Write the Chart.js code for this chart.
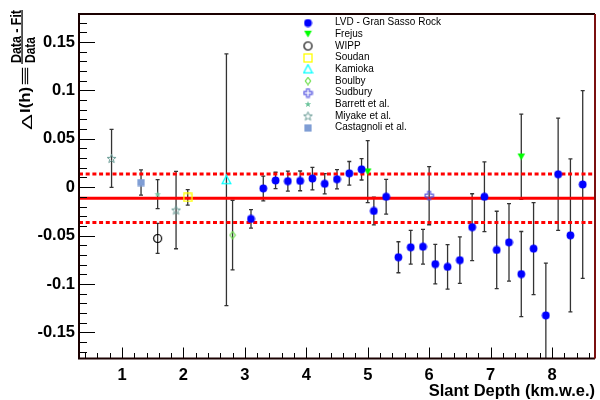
<!DOCTYPE html>
<html>
<head>
<meta charset="utf-8">
<script src="https://cdn.jsdelivr.net/npm/chart.js@4.4.1/dist/chart.umd.min.js"></script>
<style>
  html, body { margin: 0; padding: 0; background: #fff; }
</style>
</head>
<body>
<canvas id="chart" width="600" height="400"></canvas>
<script>
// Residuals (Data - Fit)/Data versus slant depth (km.w.e.)

const lvdDepth = [3.1, 3.3, 3.5, 3.7, 3.9, 4.1, 4.3, 4.5, 4.7, 4.9, 5.1, 5.3, 5.5, 5.7,
                  5.9, 6.1, 6.3, 6.5, 6.7, 6.9, 7.1, 7.3, 7.5, 7.7, 7.9, 8.1, 8.3, 8.5];
const lvdRes = [-0.0328, -0.0013, 0.0069, 0.0062, 0.0065, 0.0089, 0.0035, 0.0082, 0.0143, 0.0184,
                -0.0246, -0.0099, -0.0724, -0.0621, -0.0615, -0.0795, -0.0823, -0.0754, -0.0413, -0.0099,
                -0.0649, -0.0570, -0.0898, -0.0635, -0.1325, 0.0133, -0.0498, 0.0028];
const lvdErr = [0.0095, 0.0128, 0.0085, 0.0103, 0.0102, 0.0116, 0.0105, 0.0100, 0.0122, 0.0110,
                0.0143, 0.0180, 0.0160, 0.0174, 0.0180, 0.0205, 0.0230, 0.0240, 0.0345, 0.0360,
                0.0400, 0.0400, 0.0440, 0.0475, 0.0540, 0.0580, 0.0790, 0.0970];

const frejusDepth = [5.0, 7.5];
const frejusRes = [0.0161, 0.0315];
const frejusErr = [0.032, 0.044];

const wippDepth = [1.58];
const wippRes = [-0.053];
const wippErr = [0.0155];

const soudanDepth = [2.07];
const soudanRes = [-0.0106];
const soudanErr = [0.008];

const kamiokaDepth = [2.7];
const kamiokaRes = [0.0076];
const kamiokaErr = [0.13];

const boulbyDepth = [2.8];
const boulbyRes = [-0.0495];
const boulbyErr = [0.036];

const sudburyDepth = [6.0];
const sudburyRes = [-0.0088];
const sudburyErr = [0.030];

const barrettDepth = [1.58];
const barrettRes = [-0.0072];
const barrettErr = [0.015];

const miyakeDepth = [0.83, 1.88];
const miyakeRes = [0.0297, -0.0236];
const miyakeErr = [0.030, 0.040];

const castagnoliDepth = [1.31];
const castagnoliRes = [0.0048];
const castagnoliErr = [0.013];

// fit result: mean residual and +-1 sigma band
const fitMean = -0.0115;
const fitBand = [0.0135, -0.0365];

const xMin = 0.3, xMax = 8.7;
const yMin = -0.177, yMax = 0.179;
const xTickValues = [1, 2, 3, 4, 5, 6, 7, 8];
const yTickValues = [-0.15, -0.1, -0.05, 0, 0.05, 0.1, 0.15];
const yTickLabels = ['-0.15', '-0.1', '-0.05', '0', '0.05', '0.1', '0.15'];

const FONT = "'Liberation Sans', Arial, Helvetica, sans-serif";

// ---- marker images (ROOT style markers) ----
function marker(w, h, draw) {
  const c = document.createElement('canvas');
  c.width = w; c.height = h;
  const g = c.getContext('2d');
  draw(g, w / 2, h / 2);
  return c;
}

function starPath(g, cx, cy, ro, ri) {
  g.beginPath();
  for (let k = 0; k < 10; k++) {
    const r = k % 2 ? ri : ro;
    const a = -Math.PI / 2 + k * Math.PI / 5;
    g.lineTo(cx + r * Math.cos(a), cy + r * Math.sin(a));
  }
  g.closePath();
}

const mkLvd = marker(9, 9, (g, cx, cy) => {
  g.fillStyle = '#0000ff';
  g.beginPath(); g.arc(cx, cy, 3.9, 0, Math.PI * 2); g.fill();
});
const mkFrejus = marker(9, 8, (g, cx, cy) => {
  g.fillStyle = '#00ff00';
  g.beginPath(); g.moveTo(cx - 3.8, cy - 3.2); g.lineTo(cx + 3.8, cy - 3.2); g.lineTo(cx, cy + 3.4);
  g.closePath(); g.fill();
});
const mkWipp = marker(11, 11, (g, cx, cy) => {
  g.strokeStyle = '#000'; g.lineWidth = 1.2;
  g.beginPath(); g.arc(cx, cy, 4, 0, Math.PI * 2); g.stroke();
});
const mkSoudan = marker(10, 10, (g, cx, cy) => {
  g.strokeStyle = '#ffff00'; g.lineWidth = 1.3;
  g.strokeRect(cx - 4, cy - 4, 8, 8);
});
const mkKamioka = marker(11, 11, (g, cx, cy) => {
  g.strokeStyle = '#00ffff'; g.lineWidth = 1.3;
  g.beginPath(); g.moveTo(cx, cy - 4.3); g.lineTo(cx + 4.3, cy + 3.8); g.lineTo(cx - 4.3, cy + 3.8);
  g.closePath(); g.stroke();
});
const mkBoulby = marker(8, 9, (g, cx, cy) => {
  g.strokeStyle = '#66dd44'; g.lineWidth = 1.1;
  g.beginPath(); g.moveTo(cx, cy - 3.6); g.lineTo(cx + 2.7, cy); g.lineTo(cx, cy + 3.6); g.lineTo(cx - 2.7, cy);
  g.closePath(); g.stroke();
});
const mkSudbury = marker(11, 11, (g, cx, cy) => {
  const a = 1.4, h = 4.2;
  const pts = [[-a, -h], [a, -h], [a, -a], [h, -a], [h, a], [a, a], [a, h], [-a, h], [-a, a], [-h, a], [-h, -a], [-a, -a]];
  g.strokeStyle = '#5050e0'; g.lineWidth = 1.1;
  g.beginPath();
  pts.forEach(p => g.lineTo(cx + p[0], cy + p[1]));
  g.closePath(); g.stroke();
});
const mkBarrett = marker(8, 8, (g, cx, cy) => {
  g.fillStyle = '#6cc49c';
  starPath(g, cx, cy + 0.3, 3.4, 1.4); g.fill();
});
const mkMiyake = marker(11, 11, (g, cx, cy) => {
  g.strokeStyle = '#6a9c96'; g.lineWidth = 1;
  starPath(g, cx, cy + 0.4, 4.6, 1.9); g.stroke();
});
const mkCastagnoli = marker(8, 8, (g, cx, cy) => {
  g.fillStyle = '#7f9dd4';
  g.fillRect(cx - 3.6, cy - 3.6, 7.2, 7.2);
});

function pts(xs, ys) { return xs.map((x, i) => ({ x, y: ys[i] })); }

const markerDatasets = [
  { label: 'LVD - Gran Sasso Rock', data: pts(lvdDepth, lvdRes), errors: lvdErr, pointStyle: mkLvd },
  { label: 'Frejus', data: pts(frejusDepth, frejusRes), errors: frejusErr, pointStyle: mkFrejus },
  { label: 'WIPP', data: pts(wippDepth, wippRes), errors: wippErr, pointStyle: mkWipp },
  { label: 'Soudan', data: pts(soudanDepth, soudanRes), errors: soudanErr, pointStyle: mkSoudan },
  { label: 'Kamioka', data: pts(kamiokaDepth, kamiokaRes), errors: kamiokaErr, pointStyle: mkKamioka },
  { label: 'Boulby', data: pts(boulbyDepth, boulbyRes), errors: boulbyErr, pointStyle: mkBoulby },
  { label: 'Sudbury', data: pts(sudburyDepth, sudburyRes), errors: sudburyErr, pointStyle: mkSudbury },
  { label: 'Barrett et al.', data: pts(barrettDepth, barrettRes), errors: barrettErr, pointStyle: mkBarrett },
  { label: 'Miyake et al.', data: pts(miyakeDepth, miyakeRes), errors: miyakeErr, pointStyle: mkMiyake },
  { label: 'Castagnoli et al.', data: pts(castagnoliDepth, castagnoliRes), errors: castagnoliErr, pointStyle: mkCastagnoli }
].map(d => Object.assign(d, { pointRadius: 4, showLine: false, order: 0 }));

function fitLine(y, dash) {
  return {
    label: '', data: [{ x: xMin, y }, { x: xMax, y }], showLine: true,
    borderColor: '#ff0000', borderWidth: 3, borderDash: dash, pointRadius: 0, order: 10, isFit: true
  };
}
const fitDatasets = [fitLine(fitMean, []), fitLine(fitBand[0], [4, 2.7]), fitLine(fitBand[1], [4, 2.7])];

// ---- plugins ----
const errorBars = {
  id: 'errorBars',
  beforeDatasetsDraw(chart) {
    const { ctx, chartArea: a, scales: { x, y } } = chart;
    ctx.save();
    ctx.beginPath(); ctx.rect(a.left, a.top, a.right - a.left, a.bottom - a.top); ctx.clip();
    ctx.strokeStyle = '#333'; ctx.lineWidth = 1.3;
    chart.data.datasets.forEach(ds => {
      if (!ds.errors) return;
      ds.data.forEach((p, i) => {
        const px = x.getPixelForValue(p.x);
        const y1 = y.getPixelForValue(p.y + ds.errors[i]);
        const y2 = y.getPixelForValue(p.y - ds.errors[i]);
        ctx.beginPath();
        ctx.moveTo(px, y1); ctx.lineTo(px, y2);
        ctx.moveTo(px - 2, y1); ctx.lineTo(px + 2, y1);
        ctx.moveTo(px - 2, y2); ctx.lineTo(px + 2, y2);
        ctx.stroke();
      });
    });
    ctx.restore();
  }
};

const frame = {
  id: 'frame',
  afterDraw(chart) {
    const { ctx, chartArea: a, scales: { x, y } } = chart;
    ctx.save();
    ctx.strokeStyle = '#000'; ctx.lineWidth = 1;
    // y ticks every 0.01, long at 0.05
    for (let k = -17; k <= 17; k++) {
      const py = Math.round(y.getPixelForValue(k / 100)) + 0.5;
      const len = k % 5 === 0 ? 16 : 8;
      ctx.beginPath(); ctx.moveTo(a.left, py); ctx.lineTo(a.left + len, py); ctx.stroke();
    }
    // x ticks every 0.2, long at integers
    for (let k = 2; k <= 43; k++) {
      const px = Math.round(x.getPixelForValue(k / 5)) + 0.5;
      const len = k % 5 === 0 ? 11 : 5.5;
      ctx.beginPath(); ctx.moveTo(px, a.bottom); ctx.lineTo(px, a.bottom - len); ctx.stroke();
    }
    ctx.lineWidth = 2;
    ctx.strokeStyle = '#1a0000';
    ctx.beginPath();
    ctx.moveTo(a.right, a.top); ctx.lineTo(a.left, a.top); ctx.lineTo(a.left, a.bottom); ctx.lineTo(a.right, a.bottom);
    ctx.stroke();
    ctx.strokeStyle = '#7a1010';
    ctx.beginPath(); ctx.moveTo(a.right, a.top); ctx.lineTo(a.right, a.bottom); ctx.stroke();
    ctx.restore();
  }
};

function fitText(ctx, text, font, l0, l1, base) {
  ctx.font = font;
  const w = ctx.measureText(text).width;
  ctx.save();
  ctx.translate(l0, base);
  ctx.scale((l1 - l0) / w, 1);
  ctx.fillText(text, 0, 0);
  ctx.restore();
}

const titles = {
  id: 'titles',
  afterDraw(chart) {
    const { ctx, chartArea: a } = chart;
    ctx.save();
    ctx.fillStyle = '#000';
    ctx.textBaseline = 'alphabetic';
    // x title
    ctx.font = 'bold 16.5px ' + FONT;
    ctx.textAlign = 'right';
    ctx.fillText('Slant Depth (km.w.e.)', a.right, 396);
    // y title, rotated
    ctx.textAlign = 'left';
    ctx.translate(0, 130);
    ctx.rotate(-Math.PI / 2);
    fitText(ctx, 'Δ', '15px ' + FONT, 0, 16, 31.5);
    fitText(ctx, 'I(h)', 'bold 15px ' + FONT, 17, 43, 30);
    fitText(ctx, '≡', '15px ' + FONT, 44, 64, 30);
    fitText(ctx, 'Data - Fit', 'bold 15px ' + FONT, 67, 120, 20.7);
    fitText(ctx, 'Data', 'bold 15px ' + FONT, 67, 93, 35);
    ctx.fillRect(66, 21.4, 54, 1.3);
    ctx.restore();
  }
};

const legendBox = {
  id: 'legendBox',
  afterDraw(chart) {
    const { ctx } = chart;
    ctx.save();
    ctx.font = '10px ' + FONT;
    ctx.fillStyle = '#000';
    ctx.textBaseline = 'middle';
    ctx.textAlign = 'left';
    markerDatasets.forEach((ds, i) => {
      const cy = 22.7 + i * 11.67;
      const img = ds.pointStyle;
      ctx.drawImage(img, 308 - img.width / 2, Math.round(cy) - img.height / 2);
      ctx.fillText(ds.label, 335, cy);
    });
    ctx.restore();
  }
};

const tickFont = { family: FONT, size: 16.5, weight: 'bold' };

new Chart(document.getElementById('chart'), {
  type: 'scatter',
  data: { datasets: [...fitDatasets, ...markerDatasets] },
  options: {
    responsive: false,
    animation: false,
    devicePixelRatio: 1,
    events: [],
    layout: { padding: { top: 11, right: 2, left: 0, bottom: 0 } },
    plugins: { legend: { display: false }, tooltip: { enabled: false } },
    scales: {
      x: {
        type: 'linear', min: xMin, max: xMax,
        grid: { display: false, drawTicks: false }, border: { display: false },
        ticks: { font: tickFont, color: '#000', padding: 7, maxRotation: 0, autoSkip: false },
        afterBuildTicks: s => { s.ticks = xTickValues.map(v => ({ value: v })); },
        afterFit: s => { s.height = 41.5; }
      },
      y: {
        type: 'linear', min: yMin, max: yMax,
        grid: { display: false, drawTicks: false }, border: { display: false },
        ticks: {
          font: tickFont, color: '#000', padding: 4, autoSkip: false,
          callback: v => yTickLabels[yTickValues.indexOf(v)]
        },
        afterBuildTicks: s => { s.ticks = yTickValues.map(v => ({ value: v })); },
        afterFit: s => { s.width = 79; }
      }
    }
  },
  plugins: [errorBars, frame, titles, legendBox]
});
</script>
</body>
</html>
